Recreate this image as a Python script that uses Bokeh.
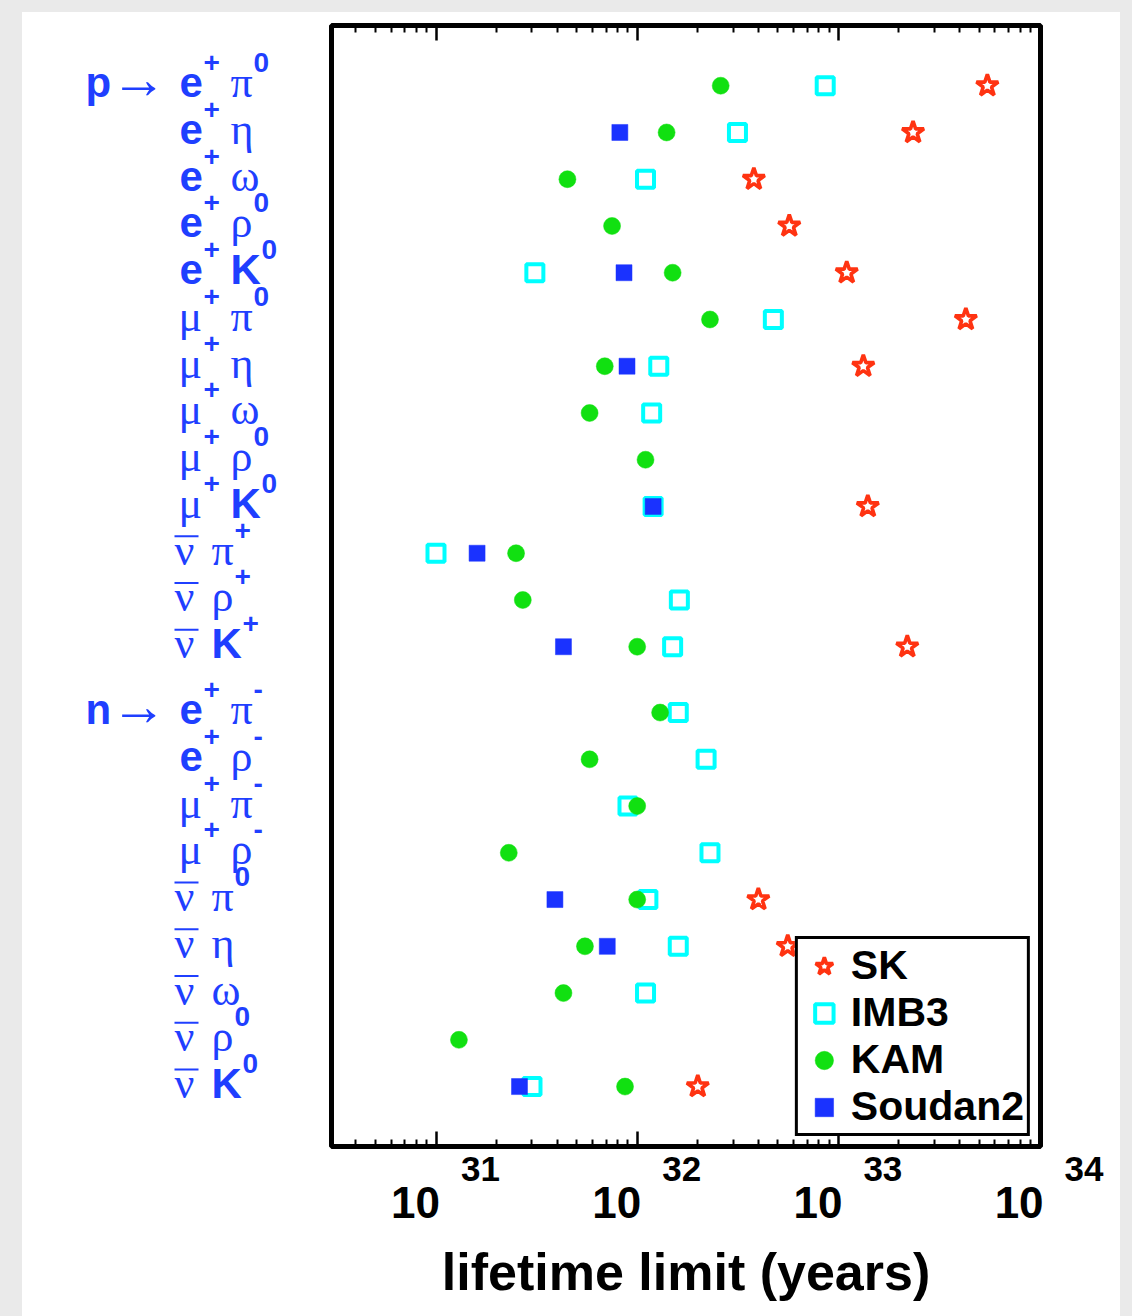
import math
from bokeh.plotting import figure
from bokeh.models import (Range1d, LogAxis, FixedTicker, Legend, LegendItem, ColumnDataSource,
                          CustomJSTickFormatter)
from bokeh.layouts import column, row
from bokeh.core.properties import value
from bokeh.embed import file_html
from bokeh.resources import INLINE

# ---------------- data ----------------
p_leptons = ["e", "e", "e", "e", "e", "μ", "μ", "μ", "μ", "μ", "ν", "ν", "ν"]
p_mesons = ["π", "η", "ω", "ρ", "K", "π", "η", "ω", "ρ", "K", "π", "ρ", "K"]
p_meson_charges = ["0", "", "", "0", "0", "0", "", "", "0", "0", "+", "+", "+"]
n_leptons = ["e", "e", "μ", "μ", "ν", "ν", "ν", "ν", "ν"]
n_mesons = ["π", "ρ", "π", "ρ", "π", "η", "ω", "ρ", "K"]
n_meson_charges = ["-", "-", "-", "-", "0", "", "", "0", "0"]

# lifetime limits in years (p channels first, then n channels); None = no limit
sk_limits = [5.5e33, 2.35e33, 3.8e32, 5.7e32, 1.1e33, 4.3e33, 1.33e33, None, None, 1.4e33, None, None, 2.2e33,
             None, None, None, None, 4.0e32, 5.6e32, None, None, 2.0e32]
imb3_limits = [8.6e32, 3.15e32, 1.1e32, None, 3.1e31, 4.75e32, 1.28e32, 1.18e32, None, 1.2e32, 1.0e31, 1.62e32, 1.5e32,
               1.6e32, 2.2e32, 9.0e31, 2.3e32, 1.13e32, 1.6e32, 1.1e32, None, 3.0e31]
kam_limits = [2.6e32, 1.4e32, 4.5e31, 7.5e31, 1.5e32, 2.3e32, 6.9e31, 5.8e31, 1.1e32, None, 2.5e31, 2.7e31, 1.0e32,
              1.3e32, 5.8e31, 1.0e32, 2.3e31, 1.0e32, 5.5e31, 4.3e31, 1.3e31, 8.7e31]
soudan2_limits = [None, 8.2e31, None, None, 8.6e31, None, 8.9e31, None, None, 1.2e32, 1.6e31, None, 4.3e31,
                  None, None, None, None, 3.9e31, 7.1e31, None, None, 2.6e31]

decade_ticks = [1e31, 1e32, 1e33, 1e34]
decade_exponents = ["31", "32", "33", "34"]
x_title = "lifetime limit (years)"

# ---------------- styling / layout constants ----------------
GROUP_GAP = 0.408
BLUE_TXT = "#1f3fff"
SANS = value("Liberation Sans")
SERIF = value("Liberation Serif")
BG = "#eaeaea"

PAGE_L, PAGE_T, PAGE_R = 22, 12, 12
LEFT_W = 299
MAIN_W = 799
TOP_H = 1138
BOT_H = 1316 - PAGE_T - TOP_H
MB_L, MB_R, MB_T, MB_B = 10, 80, 13, 4

rows_p = [float(i) for i in range(len(p_mesons))]
rows_n = [len(p_mesons) + GROUP_GAP + j for j in range(len(n_mesons))]
rows = rows_p + rows_n
leptons = p_leptons + n_leptons
mesons = p_mesons + n_mesons
charges = p_meson_charges + n_meson_charges

X_LO, X_HI = 10.0 ** 30.4806, 10.0 ** 34.0045
Y_BOT, Y_TOP = 22.69, -1.288
y_range = Range1d(Y_BOT, Y_TOP)
ROW_PX = (TOP_H - MB_T - MB_B) / (Y_BOT - Y_TOP)

# ---------------- main plot ----------------
p = figure(width=MAIN_W, height=TOP_H, x_axis_type="log",
           x_range=Range1d(X_LO, X_HI), y_range=y_range,
           y_axis_location=None, output_backend="svg", toolbar_location=None,
           min_border_left=MB_L, min_border_right=MB_R, min_border_top=MB_T, min_border_bottom=MB_B,
           background_fill_color="white", border_fill_color="white")
p.grid.visible = False
p.outline_line_color = "black"
p.outline_line_width = 5
p.outline_line_alpha = 1

minor = [float(m) * 10.0 ** e for e in (30, 31, 32, 33) for m in range(2, 10)]


def style_axis(ax):
    ax.ticker = FixedTicker(ticks=decade_ticks, minor_ticks=minor)
    ax.formatter = CustomJSTickFormatter(code="return ''")
    ax.major_label_text_font_size = "1px"
    ax.axis_line_color = None
    ax.major_tick_in = 15
    ax.major_tick_out = 0
    ax.minor_tick_in = 7
    ax.minor_tick_out = 0
    ax.major_tick_line_width = 2.5
    ax.minor_tick_line_width = 2
    ax.major_tick_line_color = "black"
    ax.minor_tick_line_color = "black"
    ax.major_label_standoff = 0


style_axis(p.xaxis[0])
top = LogAxis()
style_axis(top)
p.add_layout(top, "above")


def src(vals):
    xs = [v for v in vals if v is not None]
    ys = [r for r, v in zip(rows, vals) if v is not None]
    return ColumnDataSource(dict(x=xs, y=ys))


r_imb = p.scatter("x", "y", source=src(imb3_limits), marker="square", size=17,
                  fill_color="white", line_color="#00ffff", line_width=4)
r_kam = p.scatter("x", "y", source=src(kam_limits), marker="circle", size=17,
                  fill_color="#11e011", line_color="#11e011", line_width=0.5)
r_sou = p.scatter("x", "y", source=src(soudan2_limits), marker="square", size=16,
                  fill_color="#1a32ff", line_color="#1a32ff", line_width=0.5)
r_sk = p.scatter("x", "y", source=src(sk_limits), marker="star", size=23,
                 fill_color="white", line_color="#ff3311", line_width=3.6)

legend = Legend(items=[LegendItem(label="SK", renderers=[r_sk]),
                       LegendItem(label="IMB3", renderers=[r_imb]),
                       LegendItem(label="KAM", renderers=[r_kam]),
                       LegendItem(label="Soudan2", renderers=[r_sou])],
                location="bottom_right", margin=10, padding=3, spacing=0,
                glyph_width=46, glyph_height=46, label_standoff=4, label_height=46,
                label_text_font="Liberation Sans", label_text_font_style="bold",
                label_text_font_size="41px", label_text_color="black",
                border_line_color="black", border_line_width=3.5, border_line_alpha=1.0,
                background_fill_color="white", background_fill_alpha=1)
p.add_layout(legend)

# ---------------- left panel: decay-channel labels ----------------
left = figure(width=LEFT_W, height=TOP_H, x_range=Range1d(0, LEFT_W), y_range=y_range,
              x_axis_location=None, y_axis_location=None, output_backend="svg", toolbar_location=None,
              min_border_left=0, min_border_right=0, min_border_top=MB_T, min_border_bottom=MB_B,
              background_fill_color="white", border_fill_color="white", outline_line_color=None)
left.grid.visible = False

MAIN = "42px"
GREEK = "44px"
SUP = "28px"
DY_MAIN = -3
DY_SUP = -23
meson_width = {"π": 22, "η": 22, "ω": 29, "ρ": 22, "K": 30}


def ltxt(s, x, y, dy, font, size, bold=False):
    left.text(x=[x], y=[y], text=[s], y_offset=dy, text_font=font, text_font_size=size,
              text_font_style="bold" if bold else "normal", text_color=BLUE_TXT,
              text_align="left", text_baseline="alphabetic")


bar_y = []
for yv, lep, mes, ch in zip(rows, leptons, mesons, charges):
    if lep == "e":
        ltxt("e", 157, yv, DY_MAIN, SANS, MAIN, bold=True)
        ltxt("+", 181, yv, DY_SUP, SANS, SUP, bold=True)
        mx = 208
    elif lep == "μ":
        ltxt("μ", 156, yv, DY_MAIN, SERIF, GREEK)
        ltxt("+", 181, yv, DY_SUP, SANS, SUP, bold=True)
        mx = 208
    else:
        ltxt("ν", 152, yv, DY_MAIN, SERIF, GREEK)
        bar_y.append(yv - 17 / ROW_PX)
        mx = 189
    if mes == "K":
        ltxt("K", mx, yv, DY_MAIN, SANS, MAIN, bold=True)
    else:
        ltxt(mes, mx, yv, DY_MAIN, SERIF, GREEK)
    if ch:
        ltxt(ch, mx + meson_width[mes] + 1, yv, DY_SUP, SANS, SUP, bold=True)

# anti-particle bar over the neutrino
left.scatter(x=[164] * len(bar_y), y=bar_y, marker="dash", size=24, line_width=2, line_color=BLUE_TXT)

for yv, nucleon in ((rows_p[0], "p"), (rows_n[0], "n")):
    ltxt(nucleon, 63, yv, DY_MAIN, SANS, MAIN, bold=True)
    ltxt("→", 88, yv, -7, SERIF, "56px")

# ---------------- bottom panel: tick labels and axis title ----------------
frame_l = PAGE_L + LEFT_W + MB_L
frame_r = PAGE_L + LEFT_W + MAIN_W - MB_R
lpp = (math.log10(X_HI) - math.log10(X_LO)) / (frame_r - frame_l)
bx_lo = 10 ** (math.log10(X_LO) - (frame_l - PAGE_L) * lpp)
bx_hi = 10 ** (math.log10(X_HI) + (PAGE_L + LEFT_W + MAIN_W - frame_r) * lpp)

bottom = figure(width=LEFT_W + MAIN_W, height=BOT_H, x_axis_type="log",
                x_range=Range1d(bx_lo, bx_hi), y_range=Range1d(BOT_H, 0),
                x_axis_location=None, y_axis_location=None, output_backend="svg", toolbar_location=None,
                min_border_left=0, min_border_right=0, min_border_top=0, min_border_bottom=0,
                background_fill_color="white", border_fill_color="white", outline_line_color=None)
bottom.grid.visible = False

bottom.text(x=decade_ticks, y=[52] * len(decade_ticks), text=["10"] * len(decade_ticks), x_offset=4,
            text_font=SANS, text_font_size="44px", text_font_style="bold", text_color="black",
            text_align="right", text_baseline="alphabetic")
bottom.text(x=decade_ticks, y=[18] * len(decade_ticks), text=decade_exponents, x_offset=25,
            text_font=SANS, text_font_size="35px", text_font_style="bold", text_color="black",
            text_align="left", text_baseline="alphabetic")
bottom.text(x=[math.sqrt(X_LO * X_HI)], y=[121], text=[x_title],
            text_font=SANS, text_font_size="52px", text_font_style="bold", text_color="black",
            text_align="center", text_baseline="alphabetic")

inner = column(row(left, p), bottom, styles={"background-color": "white"})
inner.margin = (PAGE_T, PAGE_R, 0, PAGE_L)
layout = column(inner, styles={"background-color": BG})

open("out.html", "w").write(file_html(layout, INLINE))
